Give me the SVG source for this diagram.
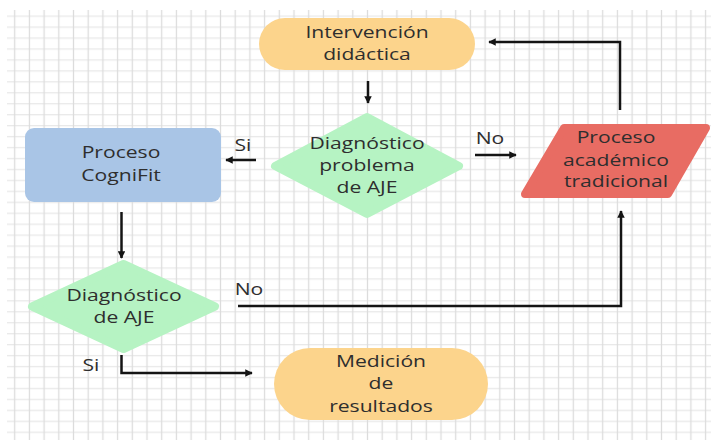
<svg xmlns="http://www.w3.org/2000/svg" width="711" height="440" viewBox="0 0 711 440">
<defs>
<pattern id="grid" patternUnits="userSpaceOnUse" x="7.35" y="10.525" width="14.7" height="10.95">
<rect x="0" y="5" width="14.7" height="1.3" fill="#e9e9e9"/>
<rect x="6.7" y="0" width="1.3" height="10.95" fill="#dcdcdc"/>
</pattern>
<marker id="ah" viewBox="0 0 10 10" refX="9" refY="5" markerUnits="userSpaceOnUse" markerWidth="7.5" markerHeight="7.5" orient="auto">
<path d="M0,0 L10,5 L0,10 z" fill="#141414"/>
</marker>
<style>
.t{font-family:"Open Sans","DejaVu Sans",sans-serif;font-size:16px;fill:#2e2e2e;text-anchor:middle}
.c{fill:none;stroke:#141414;stroke-width:2.5;marker-end:url(#ah)}
.term{fill:#fcd48c}
.dec{fill:#b6f3c3;stroke:#b6f3c3;stroke-width:8;stroke-linejoin:round}
.proc{fill:#a9c5e6}
.io{fill:#e86c63;stroke:#e86c63;stroke-width:8;stroke-linejoin:round}
</style>
</defs>
<rect width="711" height="440" fill="#fff"/>
<rect x="7" y="10" width="704" height="430" fill="url(#grid)"/>

<g id="connectors">
<path class="c" d="M368,81 V103"/>
<path class="c" d="M256,160 H226"/>
<path class="c" d="M475,155 H516"/>
<path class="c" d="M620,110 V42 H489"/>
<path class="c" d="M121.5,212 V258"/>
<path class="c" d="M238,306 H621 V211"/>
<path class="c" d="M121.5,355 V373 H252"/>
<g transform="translate(243 0) scale(1.32 1)"><text class="t" y="151">Si</text></g>
<g transform="translate(490 0) scale(1.32 1)"><text class="t" y="144">No</text></g>
<g transform="translate(249 0) scale(1.32 1)"><text class="t" y="295">No</text></g>
<g transform="translate(91 0) scale(1.32 1)"><text class="t" y="371">Si</text></g>
</g>

<g id="intervencion">
<rect class="term" x="259" y="18" width="216" height="52" rx="26"/>
<g transform="translate(367 0) scale(1.32 1)"><text class="t" y="38">Intervención</text><text class="t" y="60">didáctica</text></g>
</g>

<g id="diagnostico-problema">
<polygon class="dec" points="367,117 459,166 367,214 275,166"/>
<g transform="translate(367 0) scale(1.32 1)"><text class="t" y="149">Diagnóstico</text><text class="t" y="171">problema</text><text class="t" y="193">de AJE</text></g>
</g>

<g id="cognifit">
<rect class="proc" x="25" y="128" width="196" height="74" rx="9"/>
<g transform="translate(121 0) scale(1.32 1)"><text class="t" y="158">Proceso</text><text class="t" y="181">CogniFit</text></g>
</g>

<g id="tradicional">
<polygon class="io" points="564,128 706,128 668,194 525,194"/>
<g transform="translate(616 0) scale(1.32 1)"><text class="t" y="143">Proceso</text><text class="t" y="166">académico</text><text class="t" y="187">tradicional</text></g>
</g>

<g id="diagnostico-aje">
<polygon class="dec" points="123.5,264 215,306.5 123.5,349 32,306.5"/>
<g transform="translate(124 0) scale(1.32 1)"><text class="t" y="301">Diagnóstico</text><text class="t" y="323">de AJE</text></g>
</g>

<g id="medicion">
<rect class="term" x="274" y="348" width="214" height="72" rx="36"/>
<g transform="translate(381 0) scale(1.32 1)"><text class="t" y="367">Medición</text><text class="t" y="389">de</text><text class="t" y="412">resultados</text></g>
</g>
</svg>
